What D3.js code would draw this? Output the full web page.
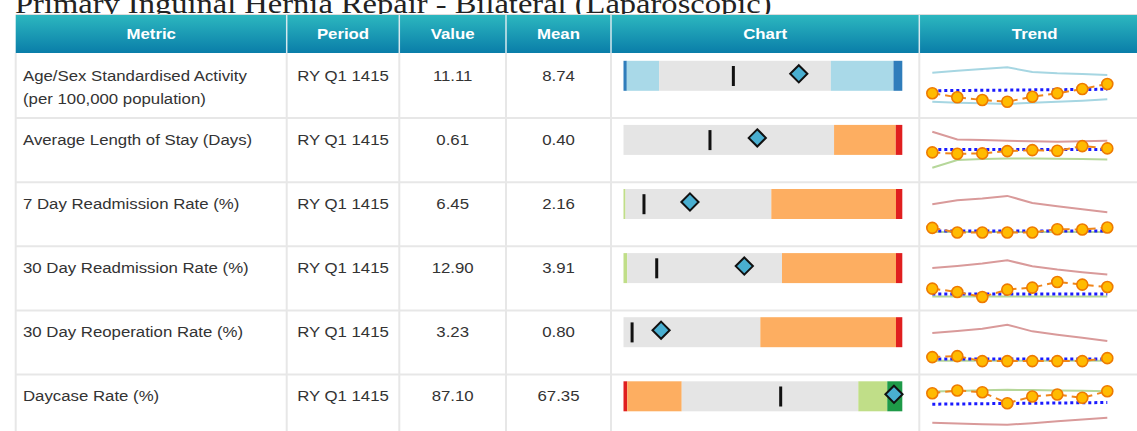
<!DOCTYPE html>
<html><head><meta charset="utf-8">
<script src="https://cdn.jsdelivr.net/npm/d3@7"></script>
<style>html,body{margin:0;padding:0;background:#fff;overflow:hidden}</style>
</head><body><svg id="c" width="1137" height="431"></svg>
<script>
// ---------------- data ----------------
const title = "Primary Inguinal Hernia Repair - Bilateral (Laparoscopic)";
const columns = ["Metric", "Period", "Value", "Mean", "Chart", "Trend"];
const metrics = [
  ["Age/Sex Standardised Activity", "(per 100,000 population)"],
  ["Average Length of Stay (Days)"],
  ["7 Day Readmission Rate (%)"],
  ["30 Day Readmission Rate (%)"],
  ["30 Day Reoperation Rate (%)"],
  ["Daycase Rate (%)"]
];
const periods = ["RY Q1 1415", "RY Q1 1415", "RY Q1 1415", "RY Q1 1415", "RY Q1 1415", "RY Q1 1415"];
const values = [11.11, 0.61, 6.45, 12.90, 3.23, 87.10];
const means = [8.74, 0.40, 2.16, 3.91, 0.80, 67.35];
const valueLabels = ["11.11", "0.61", "6.45", "12.90", "3.23", "87.10"];
const meanLabels = ["8.74", "0.40", "2.16", "3.91", "0.80", "67.35"];

// bullet chart band edges (data units) and band kinds
const bandEdges = [
  [4.76, 4.88, 6.05, 12.27, 14.54, 14.86],
  [0.016, 0.951, 1.225, 1.254],
  [0.25, 0.44, 14.04, 25.67, 26.26],
  [0.50, 0.89, 16.77, 28.47, 29.12],
  [0.08, 11.55, 22.92, 23.45],
  [39.95, 40.61, 50.10, 80.88, 85.93, 88.55]
];
const bandKinds = [
  ["darkblue", "lightblue", "mid", "lightblue", "darkblue"],
  ["mid", "warn", "bad"],
  ["good", "mid", "warn", "bad"],
  ["good", "mid", "warn", "bad"],
  ["mid", "warn", "bad"],
  ["bad", "warn", "mid", "good", "best"]
];

// trend data
const quarters = ["Q2 1213", "Q3 1213", "Q4 1213", "Q1 1314", "Q2 1314", "Q3 1314", "Q4 1314", "Q1 1415"];
const trendDomains = [[0, 20], [0, 1], [0, 10], [0, 20], [0, 5], [0, 100]];
const trendValues = [
  [6.96, 5.29, 4.17, 3.46, 5.54, 6.96, 8.75, 10.83],
  [0.452, 0.423, 0.431, 0.479, 0.500, 0.485, 0.583, 0.535],
  [2.15, 1.19, 1.19, 1.19, 1.19, 1.88, 1.81, 2.23],
  [5.71, 4.29, 2.21, 5.29, 6.13, 8.46, 7.38, 6.38],
  [0.97, 1.07, 0.55, 0.55, 0.55, 0.55, 0.55, 0.86],
  [77.7, 83.3, 79.8, 56.9, 70.8, 75.0, 68.1, 81.9]
];
const trendMeans = [
  [8.04, 8.12, 8.21, 8.29, 8.38, 8.46, 8.55, 8.63],
  [0.515, 0.515, 0.515, 0.515, 0.515, 0.515, 0.515, 0.515],
  [1.52, 1.52, 1.52, 1.52, 1.52, 1.52, 1.52, 1.52],
  [3.46, 3.46, 3.46, 3.46, 3.46, 3.46, 3.46, 3.46],
  [0.76, 0.76, 0.76, 0.76, 0.76, 0.76, 0.76, 0.76],
  [54.8, 55.3, 55.8, 56.3, 56.8, 57.3, 57.8, 58.3]
];
const trendUpper = [
  [15.54, 16.38, 17.08, 17.79, 15.83, 15.29, 15.00, 14.58],
  [0.881, 0.723, 0.708, 0.694, 0.683, 0.673, 0.683, 0.694],
  [7.08, 7.92, 8.27, 8.81, 7.35, 6.67, 6.04, 5.42],
  [14.29, 15.13, 16.13, 17.50, 15.00, 13.63, 12.50, 11.54],
  [3.47, 3.68, 3.93, 4.34, 3.65, 3.30, 2.99, 2.64],
  [81.3, 82.4, 83.6, 84.8, 84.2, 83.5, 82.7, 81.9]
];
const trendLower = [
  [3.46, 3.04, 2.79, 2.50, 3.04, 3.46, 3.88, 4.46],
  [0.131, 0.292, 0.3125, 0.327, 0.327, 0.319, 0.3125, 0.306],
  [1.31, 1.31, 1.31, 1.31, 1.31, 1.31, 1.31, 1.31],
  [2.38, 2.38, 2.38, 2.38, 2.38, 2.38, 2.38, 2.38],
  [0.59, 0.59, 0.59, 0.59, 0.59, 0.59, 0.59, 0.59],
  [16.0, 14.6, 13.1, 11.9, 15.2, 19.4, 22.9, 26.5]
];
const boundKinds = [
  ["neutral", "neutral"], ["bad", "good"], ["bad", "good"],
  ["bad", "good"], ["bad", "good"], ["good", "bad"]
];

// ---------------- styles ----------------
const bandColor = {
  darkblue: "#2f7dbb", lightblue: "#a9d9e8", mid: "#e5e5e5",
  warn: "#fdae61", bad: "#e01f1f", good: "#c0de88", best: "#1e9a48"
};
const boundColor = { neutral: "#a6d6e2", bad: "#d99a9a", good: "#b6d79a" };
const SX = 1.12; // horizontal glyph stretch
const sans = "'Liberation Sans', Arial, sans-serif";

const svg = d3.select("#c");
const W = 1137;
const colX = [15.7, 286.7, 399.3, 506, 611, 919.3, 1170];
const headerTop = 15, headerBottom = 53, rowTop0 = 54, rowH = 64.1;
const rowTop = i => rowTop0 + i * rowH;

// title
const tt = svg.append("text")
  .attr("font-family", "'Liberation Serif', 'Times New Roman', serif")
  .attr("font-size", 26.5).attr("fill", "#222")
  .text(title);
const tw = tt.node().getComputedTextLength();
tt.attr("transform", `translate(15,12.5) scale(${756.7 / tw},1)`);

// header
const defs = svg.append("defs");
const grad = defs.append("linearGradient").attr("id", "hdr")
  .attr("x1", 0).attr("y1", 0).attr("x2", 0).attr("y2", 1);
grad.append("stop").attr("offset", "0%").attr("stop-color", "#2cb7bf");
grad.append("stop").attr("offset", "100%").attr("stop-color", "#0a7ea9");

svg.append("rect").attr("x", colX[0]).attr("y", headerTop)
  .attr("width", W - colX[0] + 10).attr("height", headerBottom - headerTop)
  .attr("fill", "url(#hdr)");
svg.append("line").attr("x1", colX[0]).attr("x2", W).attr("y1", headerTop - 0.5).attr("y2", headerTop - 0.5)
  .attr("stroke", "#dcdcdc").attr("stroke-width", 1);
svg.selectAll("line.hsep").data(colX.slice(1, 6)).join("line")
  .attr("class", "hsep")
  .attr("x1", d => d).attr("x2", d => d)
  .attr("y1", headerTop).attr("y2", headerBottom)
  .attr("stroke", "#d6e8ee").attr("stroke-width", 1.5);
svg.selectAll("text.hdr").data(columns).join("text")
  .attr("class", "hdr")
  .attr("transform", (d, i) => `translate(${(colX[i] + Math.min(colX[i + 1], 1150)) / 2},39.3) scale(${SX},1)`)
  .attr("text-anchor", "middle")
  .attr("font-family", sans).attr("font-weight", "bold").attr("font-size", 15)
  .attr("fill", "#fff").text(d => d);

// body grid
for (let i = 1; i <= 6; i++) {
  svg.append("line").attr("x1", colX[0]).attr("x2", W)
    .attr("y1", rowTop(i)).attr("y2", rowTop(i))
    .attr("stroke", "#e7e7e7").attr("stroke-width", 2);
}
svg.selectAll("line.vsep").data(colX.slice(0, 6)).join("line")
  .attr("class", "vsep")
  .attr("x1", d => d).attr("x2", d => d)
  .attr("y1", headerBottom).attr("y2", 440)
  .attr("stroke", "#e7e7e7").attr("stroke-width", 2);

// rows
metrics.forEach((m, i) => {
  const top = rowTop(i);
  const g = svg.append("g");
  const base = top + 26.8;
  m.forEach((line, k) => {
    g.append("text").attr("transform", `translate(23,${base + k * 22.7}) scale(${SX},1)`)
      .attr("font-family", sans).attr("font-size", 15).attr("fill", "#333").text(line);
  });
  [[periods[i], 1], [valueLabels[i], 2], [meanLabels[i], 3]].forEach(([t, c]) => {
    g.append("text").attr("transform", `translate(${(colX[c] + colX[c + 1]) / 2},${base}) scale(${SX},1)`)
      .attr("text-anchor", "middle")
      .attr("font-family", sans).attr("font-size", 15).attr("fill", "#333").text(t);
  });

  // bullet chart
  const edges = bandEdges[i];
  const xs = d3.scaleLinear().domain([edges[0], edges[edges.length - 1]]).range([623.5, 902.3]);
  const barY = top + 6.8, barH = 30;
  const bands = d3.pairs(edges).map((p, k) => ({ a: p[0], b: p[1], kind: bandKinds[i][k] }));
  g.selectAll("rect.band").data(bands).join("rect")
    .attr("class", "band")
    .attr("x", d => xs(d.a)).attr("width", d => xs(d.b) - xs(d.a))
    .attr("y", barY).attr("height", barH)
    .attr("fill", d => bandColor[d.kind]);
  g.append("rect").attr("x", xs(means[i]) - 1.5).attr("y", barY + 5.2)
    .attr("width", 3).attr("height", 20).attr("fill", "#111");
  const r = 8.6;
  g.append("path")
    .attr("transform", `translate(${xs(values[i])},${barY + barH / 2 - 2})`)
    .attr("d", `M0,${-r}L${r},0L0,${r}L${-r},0Z`)
    .attr("fill", "#49afd1").attr("stroke", "#111").attr("stroke-width", 2);

  // trend
  const xT = d3.scalePoint().domain(quarters).range([932.3, 1107.3]);
  const yT = d3.scaleLinear().domain(trendDomains[i]).range([top + 56, top + 8]);
  const line = d3.line().x((d, j) => xT(quarters[j])).y(d => yT(d));
  g.append("path").attr("d", line(trendUpper[i])).attr("fill", "none")
    .attr("stroke", boundColor[boundKinds[i][0]]).attr("stroke-width", 2);
  g.append("path").attr("d", line(trendLower[i])).attr("fill", "none")
    .attr("stroke", boundColor[boundKinds[i][1]]).attr("stroke-width", 2);
  g.append("path").attr("d", line(trendMeans[i])).attr("fill", "none")
    .attr("stroke", "#1a1aff").attr("stroke-width", 3).attr("stroke-dasharray", "3,3");
  g.append("path").attr("d", line(trendValues[i])).attr("fill", "none")
    .attr("stroke", "#f0861a").attr("stroke-width", 2).attr("stroke-dasharray", "8,5");
  g.selectAll("circle").data(trendValues[i]).join("circle")
    .attr("cx", (d, j) => xT(quarters[j])).attr("cy", d => yT(d))
    .attr("r", 5.5).attr("fill", "#ffbb00").attr("stroke", "#ee7a00").attr("stroke-width", 1.6);
});
</script></body></html>
